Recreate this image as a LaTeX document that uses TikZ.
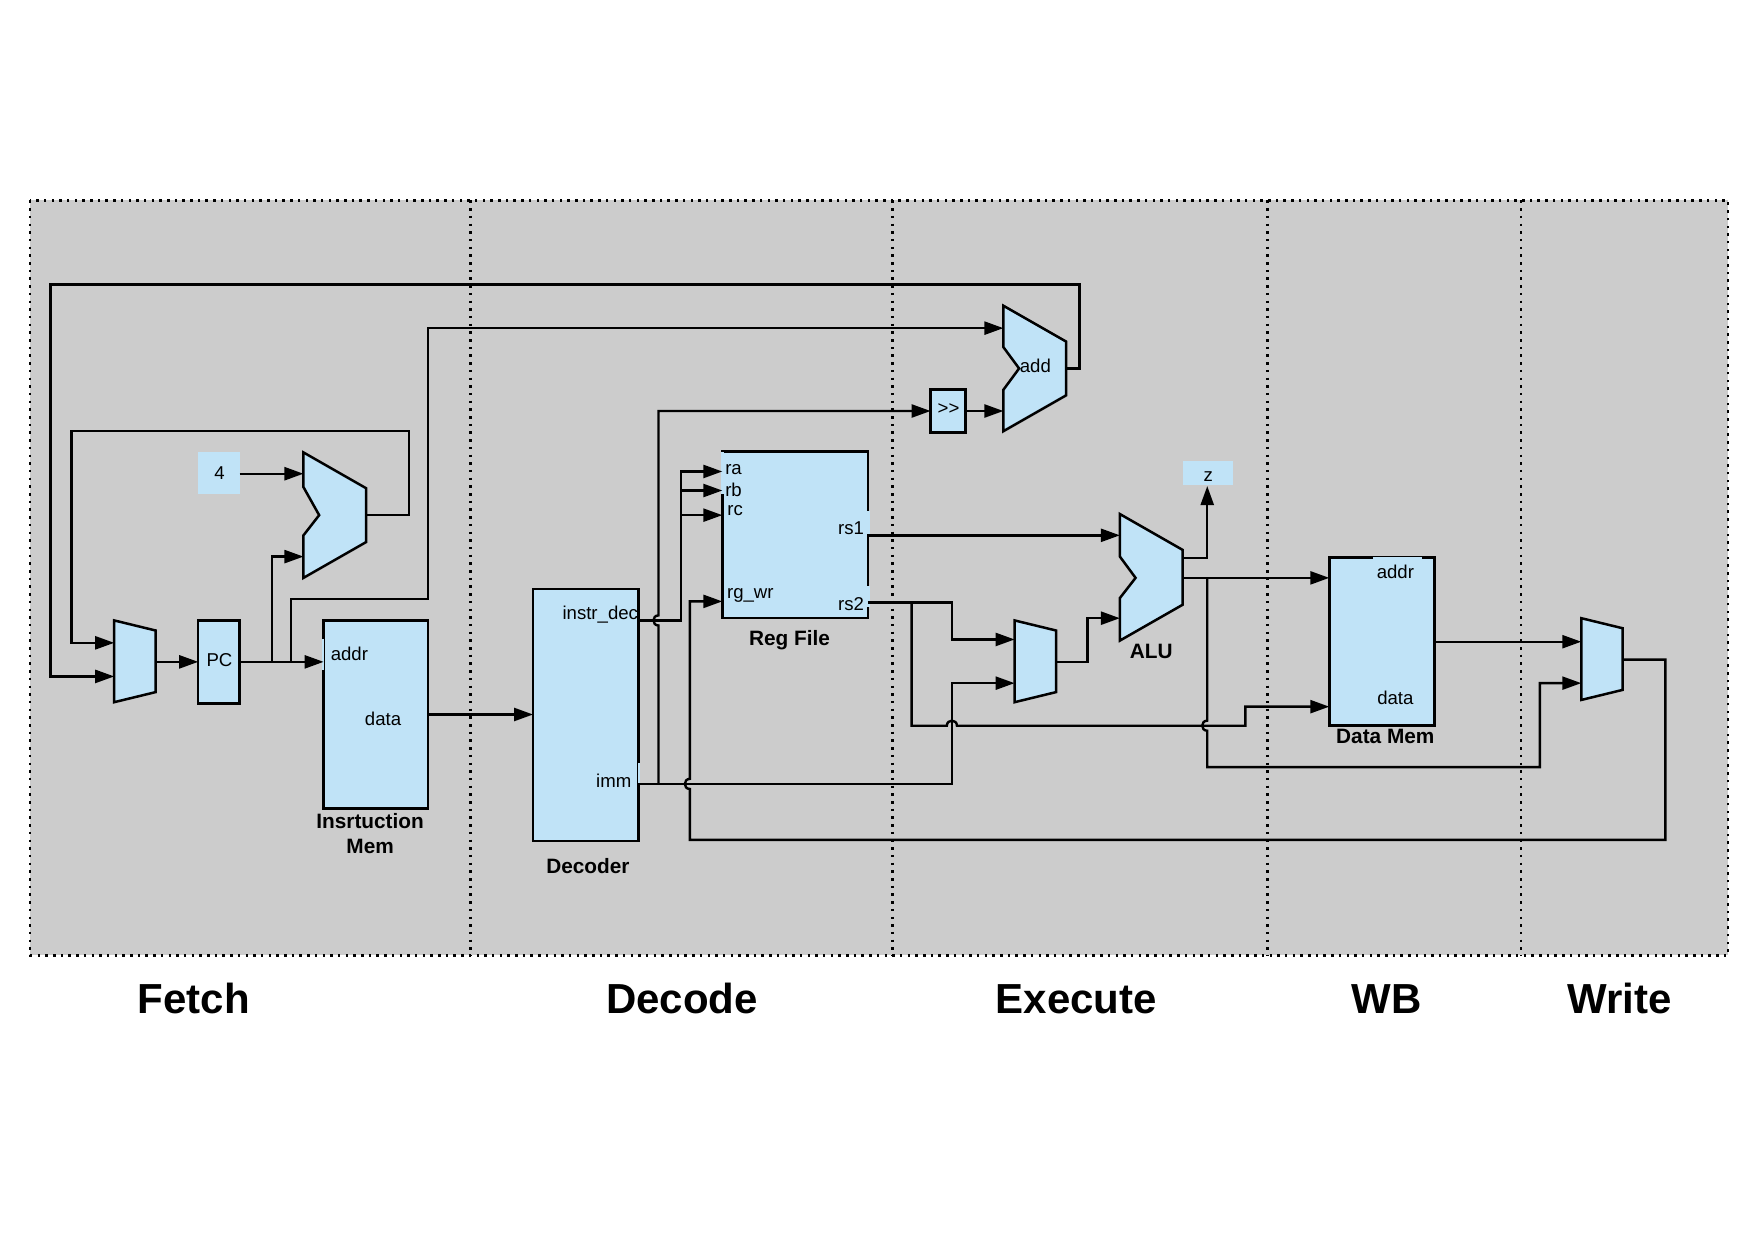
\documentclass[tikz,border=0pt]{standalone}
\usepackage{fontspec}
\setmainfont{Liberation Sans}
\usetikzlibrary{arrows.meta}
\definecolor{boxblue}{HTML}{C0E3F7}
\definecolor{stagegray}{HTML}{CCCCCC}
\tikzset{
  shapeline/.style={draw=black,line width=1.25pt,fill=boxblue,line join=miter},
  wire/.style={draw=black,line width=1.2pt,line join=miter},
  arr/.style={wire,-{Triangle[length=9.5pt,width=6.5pt]}},
  dots/.style={draw=black,line width=1.25pt,dash pattern=on 1.25pt off 2.6pt},
  lab/.style={font=\fontsize{9.3}{11}\selectfont,inner sep=0pt},
  blockcap/.style={font=\bfseries\fontsize{10.4}{12.4}\selectfont,inner sep=0pt,align=center},
  stagecap/.style={font=\bfseries\fontsize{21}{25}\selectfont,inner sep=0pt},
  patch/.style={fill=boxblue,draw=none}
}
\newcommand\rectnode[6]{%
  \pgfmathsetmacro\rw{(#4-#2)*0.56}%
  \pgfmathsetmacro\rh{(#5-#3)*0.56}%
  \node[#6,inner sep=0pt,outer sep=0pt,minimum width=\rw pt,minimum height=\rh pt] (#1) at ({(#2+#4)/2},{(#3+#5)/2}) {};%
}
\begin{document}
\begin{tikzpicture}[x=0.56pt,y=-0.56pt]
\useasboundingbox (0,0) rectangle (1568,1109);
% stage area
\fill[stagegray] (27,179) rectangle (1543,853);
\draw[dots] (27,179) rectangle (1543,853);
\foreach \sx in {420,797,1132,1358} \draw[dots] (\sx,179) -- (\sx,853);
% rectangular blocks
\rectnode{pc}{177}{554}{214}{628}{shapeline}
\rectnode{four}{177}{404}{214}{441}{fill=boxblue}
\rectnode{imem}{289}{554}{382}{722}{shapeline}
\rectnode{dec}{476}{526}{570}{751}{shapeline}
\rectnode{rf}{645}{403}{775}{552}{shapeline}
\rectnode{dmem}{1187}{498}{1281}{648}{shapeline}
\rectnode{shr}{831}{348}{862}{386}{shapeline}
\rectnode{zbox}{1056}{412}{1101}{433}{fill=boxblue}
% muxes
\draw[shapeline] (102,554) -- (139,563) -- (139,618) -- (102,627) -- cycle;
\draw[shapeline] (906,554) -- (943,563) -- (943,618) -- (906,627) -- cycle;
\draw[shapeline] (1412,552) -- (1449,561) -- (1449,616) -- (1412,625) -- cycle;
% adders / ALU
\draw[shapeline] (271,404) -- (327,436) -- (327,484) -- (271,516) -- (271,478) -- (285,460) -- (271,435) -- cycle;
\draw[shapeline] (896,273) -- (952,305) -- (952,353) -- (896,385) -- (896,348) -- (910,329) -- (896,310) -- cycle;
\draw[shapeline] (1000,459) -- (1056,491) -- (1056,540) -- (1000,572) -- (1000,534) -- (1014,516) -- (1000,497) -- cycle;
% text boxes that cover parts of the borders
\fill[patch] (643.5,404) rectangle (646.5,441);
\fill[patch] (773.5,456) rectangle (776.5,477);
\fill[patch] (773.5,523) rectangle (776.5,542);
\fill[patch] (1226,497.8) rectangle (1270,499.5);
\fill[patch] (287.8,571) rectangle (289.2,598);
\fill[patch] (569.8,681) rectangle (571.2,699);
% ports
\coordinate (mOneInA) at (102,574);
\coordinate (mOneInB) at (102,604);
\coordinate (mOneOut) at (139,591);
\coordinate (pcIn) at (177,591);
\coordinate (pcOut) at (214,591);
\coordinate (imAddr) at (289,591);
\coordinate (imData) at (382,638);
\coordinate (fourOut) at (214,423);
\coordinate (incInA) at (271,423);
\coordinate (incInB) at (271,497);
\coordinate (incOut) at (327,460);
\coordinate (addInA) at (896,293);
\coordinate (addInB) at (896,367);
\coordinate (addOut) at (952,329);
\coordinate (shrIn) at (831,367);
\coordinate (shrOut) at (862,367);
\coordinate (decIn) at (476,638);
\coordinate (decInstr) at (570,554);
\coordinate (decImm) at (570,700);
\coordinate (rfA) at (645,421);
\coordinate (rfB) at (645,438);
\coordinate (rfC) at (645,460);
\coordinate (rfWr) at (645,537);
\coordinate (rfSa) at (775,478);
\coordinate (rfSb) at (775,538);
\coordinate (mTwoInA) at (906,571);
\coordinate (mTwoInB) at (906,610);
\coordinate (mTwoOut) at (943,591);
\coordinate (aluInA) at (1000,478);
\coordinate (aluInB) at (1000,552);
\coordinate (aluOutZ) at (1056,498);
\coordinate (aluOut) at (1056,516);
\coordinate (zIn) at (1078,434);
\coordinate (dmAddr) at (1187,516);
\coordinate (dmData) at (1187,631);
\coordinate (dmOut) at (1281,573);
\coordinate (mThreeInA) at (1412,573);
\coordinate (mThreeInB) at (1412,610);
\coordinate (mThreeOut) at (1449,589);
% connectors
\draw[arr] (mOneOut) -- (pcIn);
\draw[arr] (pcOut) -- (imAddr);
\draw[arr] (243,591) |- (incInB);
\draw[arr] (260,591) -- (260,535) -- (382,535) -- (382,293) -- (addInA);
\draw[arr] (fourOut) -- (incInA);
\draw[arr] (incOut) -- (365,460) -- (365,385) -- (64,385) -- (64,574) -- (mOneInA);
\draw[arr] (addOut) -- (964,329) -- (964,254) -- (45,254) -- (45,604) -- (mOneInB);
\draw[arr] (imData) -- (decIn);
\draw[arr] (decInstr) -- (608,554) -- (608,421) -- (rfA);
\draw[arr] (608,438) -- (rfB);
\draw[arr] (608,460) -- (rfC);
\draw[arr] (decImm) -- (850,700) -- (850,610) -- (mTwoInB);
\draw[arr] (588,700) -- (588,558.5) .. controls (582,558.5) and (582,549.5) .. (588,549.5) -- (588,367) -- (shrIn);
\draw[arr] (shrOut) -- (addInB);
\draw[arr] (mThreeOut) -- (1487,589) -- (1487,750) -- (616,750) -- (616,704.5) .. controls (610,704.5) and (610,695.5) .. (616,695.5) -- (616,537) -- (rfWr);
\draw[arr] (rfSa) -- (aluInA);
\draw[arr] (rfSb) -- (850,538) -- (850,571) -- (mTwoInA);
\draw[arr] (814,538) -- (814,648) -- (845.5,648) .. controls (845.5,642) and (854.5,642) .. (854.5,648) -- (1112,648) -- (1112,631) -- (dmData);
\draw[arr] (mTwoOut) -- (971,591) -- (971,552) -- (aluInB);
\draw[arr] (aluOutZ) -- (1078,498) -- (zIn);
\draw[arr] (aluOut) -- (dmAddr);
\draw[arr] (1078,516) -- (1078,643.5) .. controls (1072,643.5) and (1072,652.5) .. (1078,652.5) -- (1078,685) -- (1375,685) -- (1375,610) -- (mThreeInB);
\draw[arr] (dmOut) -- (mThreeInA);
% labels
\node[lab] (tPc) at (196,589) {PC};
\node[lab] (tFour) at (196,422) {4};
\node[lab] (tImAddr) at (312,584) {addr};
\node[lab] (tImData) at (342,642) {data};
\node[lab] (tInstr) at (536,549) {instr\_dec};
\node[lab] (tImm) at (548,697) {imm};
\node[lab] (tRa) at (655,419) {ra};
\node[lab] (tRb) at (655,437) {rb};
\node[lab] (tRc) at (656.5,456) {rc};
\node[lab] (tRs1) at (760,472) {rs1};
\node[lab] (tRs2) at (760,539) {rs2};
\node[lab] (tWr) at (670,532) {rg\_wr};
\node[lab] (tAdd) at (924.5,327) {add};
\node[lab] (tShr) at (847,365) {>{}>};
\node[lab] (tZ) at (1079,426) {z};
\node[lab] (tDmAddr) at (1246,511) {addr};
\node[lab] (tDmData) at (1246,623) {data};
\node[blockcap] (cIm) at (330.5,744.5) {Insrtuction\\Mem};
\node[blockcap] (cDec) at (525,773) {Decoder};
\node[blockcap] (cRf) at (705,572) {Reg File};
\node[blockcap] (cAlu) at (1028,582) {ALU};
\node[blockcap] (cDm) at (1237,658) {Data Mem};
\node[stagecap] (sF) at (173,892) {Fetch};
\node[stagecap] (sD) at (609,892) {Decode};
\node[stagecap] (sE) at (961,892) {Execute};
\node[stagecap] (sW) at (1238,892) {WB};
\node[stagecap] (sR) at (1446,892) {Write};
\end{tikzpicture}
\end{document}
